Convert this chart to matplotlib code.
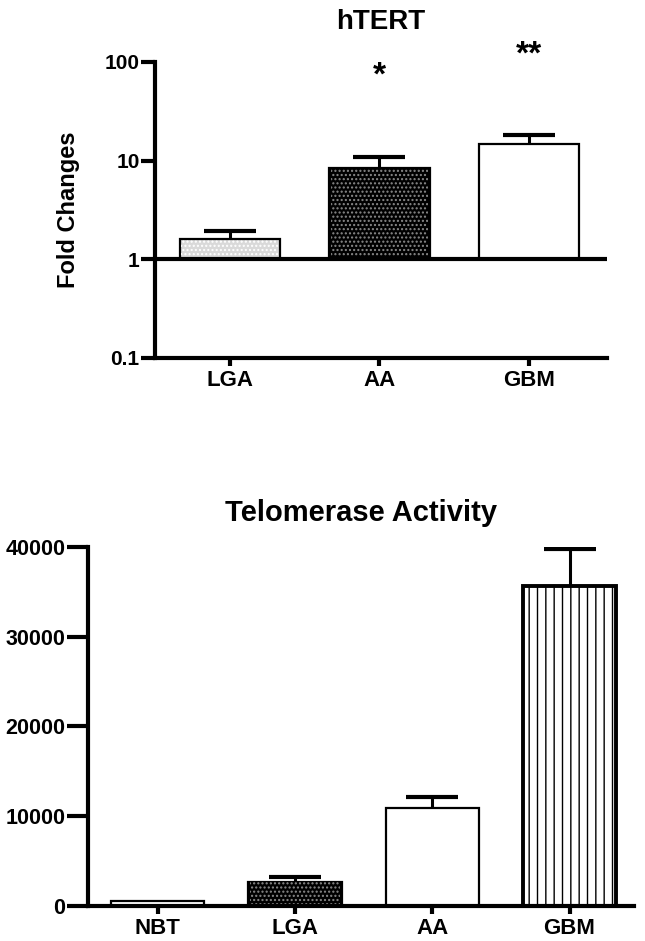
import numpy as np
import matplotlib
matplotlib.use("Agg")
import matplotlib.pyplot as plt
from matplotlib.ticker import NullLocator, FixedLocator, FixedFormatter

plt.rcParams['font.family'] = ['Liberation Sans', 'DejaVu Sans']
plt.rcParams['font.weight'] = 'bold'
plt.rcParams['hatch.linewidth'] = 1.0

# hTERT fold changes (log scale, baseline 1)
htert_groups = ['LGA', 'AA', 'GBM']
htert_mean = [1.61, 8.4, 14.8]
htert_err = [0.32, 2.6, 3.5]
htert_stars = ['', '*', '**']
htert_star_y = [None, 72, 117]

# telomerase activity
telo_groups = ['NBT', 'LGA', 'AA', 'GBM']
telo_mean = [600, 2700, 10900, 35700]
telo_err = [0, 480, 1200, 4100]

LW = 3.0


def up_errorbar(ax, x, y, err):
    # only the upper half of the error bar, like Prism
    eb = ax.errorbar(x, y, yerr=[np.zeros(len(x)), err], fmt='none',
                     ecolor='black', elinewidth=2.2, capsize=19,
                     capthick=3.0, zorder=1)
    eb[1][0].set_visible(False)
    return eb


fig = plt.figure(figsize=(6.45, 9.41), dpi=100)

# ---------------- top: hTERT ----------------
ax1 = fig.add_axes([0.240, 0.6196, 0.701, 0.3146])
x1 = np.arange(len(htert_groups))
w = 0.67
heights = np.array(htert_mean) - 1

# LGA: light grey with white dots, AA: black with grey dots, GBM: white
face1 = ['#d9d9d9', 'black', 'white']
dots1 = ['white', '#8a8a8a', None]
for i in range(len(x1)):
    ax1.bar(x1[i], heights[i], bottom=1, width=w, color=face1[i],
            edgecolor='black', linewidth=1.6, zorder=2)
    if dots1[i]:
        ax1.bar(x1[i], heights[i], bottom=1, width=w * 0.97, color='none',
                edgecolor=dots1[i], linewidth=0, hatch='....', zorder=2.5)
up_errorbar(ax1, x1, htert_mean, htert_err)

ax1.axhline(1, color='black', linewidth=LW, zorder=3)
ax1.set_yscale('log')
ax1.set_ylim(0.1, 100)
ax1.set_xlim(-0.5, 2.52)
ax1.yaxis.set_major_locator(FixedLocator([0.1, 1, 10, 100]))
ax1.yaxis.set_major_formatter(FixedFormatter(['0.1', '1', '10', '100']))
ax1.yaxis.set_minor_locator(NullLocator())
ax1.set_xticks(x1)
ax1.set_xticklabels(htert_groups)
ax1.set_ylabel('Fold Changes', fontsize=17, fontweight='bold', labelpad=18)
ax1.set_title('hTERT', fontsize=20, fontweight='bold', pad=24)

for i, s in enumerate(htert_stars):
    if s:
        ax1.text(x1[i], htert_star_y[i], s, ha='center', va='center',
                 fontsize=24, fontweight='bold', clip_on=False)

# ---------------- bottom: telomerase ----------------
ax2 = fig.add_axes([0.136, 0.0372, 0.847, 0.3815])
x2 = np.arange(len(telo_groups))

face2 = ['white', 'black', 'white', 'white']
dots2 = [None, '#8a8a8a', None, None]
hatch2 = [None, '....', None, '||']
edge_w2 = [1.6, 1.6, 1.6, 2.8]
for i in range(len(x2)):
    ax2.bar(x2[i], telo_mean[i], width=0.68, color=face2[i],
            edgecolor='black', linewidth=edge_w2[i], zorder=2)
    if hatch2[i]:
        hc = dots2[i] if dots2[i] else 'black'
        ax2.bar(x2[i], telo_mean[i], width=0.68 * 0.97, color='none',
                edgecolor=hc, linewidth=0, hatch=hatch2[i], zorder=2.5)
has_err = np.array([i for i in range(len(x2)) if telo_err[i] > 0])
up_errorbar(ax2, x2[has_err], np.array(telo_mean)[has_err],
            np.array(telo_err)[has_err])

ax2.set_ylim(0, 40000)
ax2.set_xlim(-0.51, 3.47)
ax2.set_yticks([0, 10000, 20000, 30000, 40000])
ax2.set_xticks(x2)
ax2.set_xticklabels(telo_groups)
ax2.set_title('Telomerase Activity', fontsize=21, fontweight='bold', pad=19)

for ax in (ax1, ax2):
    ax.spines['top'].set_visible(False)
    ax.spines['right'].set_visible(False)
    for sp in ('left', 'bottom'):
        ax.spines[sp].set_linewidth(LW)
    ax.tick_params(axis='x', width=LW, length=6, labelsize=16, pad=3)
    for lab in ax.get_xticklabels() + ax.get_yticklabels():
        lab.set_fontweight('bold')
ax1.tick_params(axis='y', width=LW, length=10, labelsize=15, pad=1)
ax2.tick_params(axis='y', width=LW, length=15, labelsize=15.5, pad=1)

fig.savefig('out.png', dpi=100, facecolor='white')
